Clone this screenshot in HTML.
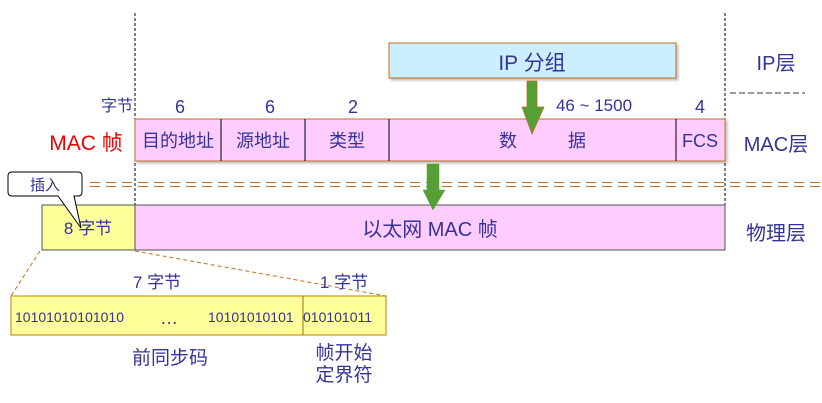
<!DOCTYPE html>
<html><head><meta charset="utf-8"><style>
html,body{margin:0;padding:0;background:#fff;}
svg{display:block;}
text{font-family:"Liberation Sans","Noto Sans CJK SC",sans-serif;fill:#333399;}
</style></head><body>
<svg width="822" height="403" viewBox="0 0 822 403" xmlns="http://www.w3.org/2000/svg">
<defs><filter id="sh" x="-5%" y="-5%" width="110%" height="130%"><feDropShadow dx="2" dy="2" stdDeviation="1.2" flood-color="#000" flood-opacity="0.25"/></filter></defs>
<!-- vertical dashed lines -->
<line x1="135" y1="13" x2="135" y2="205" stroke="#000" stroke-dasharray="3,2" stroke-width="1"/>
<line x1="725" y1="13" x2="725" y2="205" stroke="#000" stroke-dasharray="3,2" stroke-width="1"/>
<line x1="730" y1="93" x2="805" y2="93" stroke="#333" stroke-dasharray="6,3" stroke-width="1"/>
<!-- IP box -->
<rect x="389" y="43" width="287" height="35" fill="#cdeeff" stroke="#c07020" stroke-width="1" filter="url(#sh)"/>
<text x="532" y="70" font-size="21" text-anchor="middle">IP 分组</text>
<!-- MAC row -->
<rect x="135" y="119" width="590" height="42" fill="#ffccff" stroke="#c07020" stroke-width="1" filter="url(#sh)"/>
<line x1="221" y1="119" x2="221" y2="161" stroke="#000"/>
<line x1="305" y1="119" x2="305" y2="161" stroke="#000"/>
<line x1="389" y1="119" x2="389" y2="161" stroke="#000"/>
<line x1="676" y1="119" x2="676" y2="161" stroke="#000"/>
<g font-size="18" text-anchor="middle">
<text x="178" y="147">目的地址</text>
<text x="263" y="147">源地址</text>
<text x="347" y="147">类型</text>
<text x="508" y="147">数</text>
<text x="577" y="147">据</text>
<text x="700" y="147">FCS</text>
<text x="180" y="113">6</text>
<text x="270" y="113">6</text>
<text x="353" y="113">2</text>
<text x="700" y="113">4</text>
<text x="133" y="111" text-anchor="end" font-size="16">字节</text>
<text x="594" y="111" font-size="17">46 ~ 1500</text>
</g>
<text x="86" y="150" font-size="21" text-anchor="middle" style="fill:#ee0000">MAC 帧</text>
<!-- arrow 1 -->
<polygon points="527,81 537,81 537,107 544,107 532,134 522,107 527,107" fill="#55a035" stroke="#c07020" stroke-width="0.8"/>
<!-- double dashed -->
<line x1="90" y1="182.5" x2="822" y2="182.5" stroke="#c07020" stroke-dasharray="10,6"/>
<line x1="90" y1="186.5" x2="822" y2="186.5" stroke="#c07020" stroke-dasharray="10,6"/>
<!-- physical row -->
<rect x="42" y="205" width="93" height="45" fill="#ffff99" stroke="#4a5a50" stroke-width="1"/>
<rect x="135" y="205" width="590" height="45" fill="#ffccff" stroke="#4a5a50" stroke-width="1"/>
<text x="88" y="234" font-size="17" text-anchor="middle">8 字节</text>
<text x="430" y="236" font-size="20" text-anchor="middle">以太网 MAC 帧</text>
<!-- arrow 2 -->
<polygon points="427,164 439,164 439,190 445,190 433,210 423,190 427,190" fill="#55a035" stroke="#55a035" stroke-width="0.5"/>
<!-- callout -->
<path d="M12,172 H78 Q82,172 82,176 V192 Q82,196 78,196 H74 L81,228 L58,196 H12 Q8,196 8,192 V176 Q8,172 12,172 Z" fill="#fff" stroke="#000" stroke-width="1"/>
<text x="45" y="190" font-size="15" text-anchor="middle">插入</text>
<!-- layer labels -->
<g font-size="20" text-anchor="middle">
<text x="776" y="70">IP层</text>
<text x="776" y="151">MAC层</text>
<text x="776" y="240">物理层</text>
</g>
<!-- zoom lines -->
<line x1="40" y1="251" x2="11" y2="296" stroke="#c07020" stroke-dasharray="4,3"/>
<line x1="135" y1="251" x2="386" y2="296" stroke="#c07020" stroke-dasharray="4,3"/>
<!-- bottom box -->
<rect x="11" y="296" width="375" height="39" fill="#ffff99" stroke="#c08000" stroke-width="1"/>
<line x1="303" y1="296" x2="303" y2="335" stroke="#a07000"/>
<g font-size="14">
<text x="15" y="322">10101010101010</text>
<text x="160" y="324" font-size="18">…</text>
<text x="208" y="322">10101010101</text>
<text x="303" y="322">010101011</text>
</g>
<g font-size="17" text-anchor="middle">
<text x="157" y="288">7 字节</text>
<text x="344" y="288">1 字节</text>
<text x="170" y="364" font-size="19">前同步码</text>
<text x="344" y="359" font-size="19">帧开始</text>
<text x="344" y="381" font-size="19">定界符</text>
</g>
</svg>
</body></html>
